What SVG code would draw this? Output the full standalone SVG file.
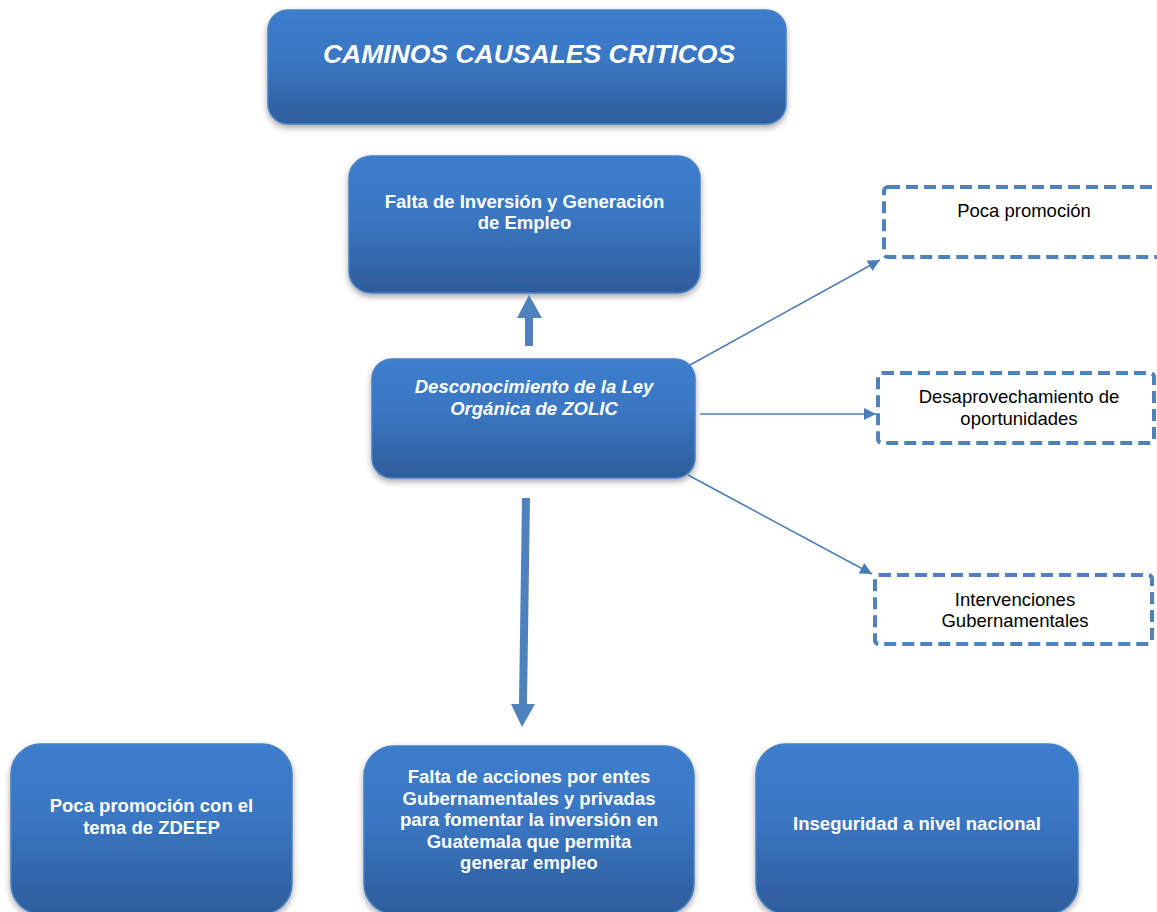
<svg xmlns="http://www.w3.org/2000/svg" width="1157" height="912" viewBox="0 0 1157 912">
<defs>
<linearGradient id="g" x1="0" y1="0" x2="0" y2="1">
<stop offset="0" stop-color="#3c7ecd"/>
<stop offset="0.45" stop-color="#3a76c2"/>
<stop offset="1" stop-color="#2e5c9b"/>
</linearGradient>
<filter id="sh" x="-10%" y="-10%" width="120%" height="130%">
<feDropShadow dx="0" dy="3" stdDeviation="3" flood-color="#000" flood-opacity="0.35"/>
</filter>
<marker id="ah2" viewBox="0 0 10 10" refX="10" refY="5" markerWidth="12" markerHeight="12" orient="auto" markerUnits="userSpaceOnUse">
<path d="M0,0 L10,5 L0,10 z" fill="#4a7ebb"/>
</marker>
</defs>
<style>
.box{fill:url(#g);stroke:#4a80c4;stroke-width:1.5;filter:url(#sh)}
.dash{fill:#fff;stroke:#4f81bd;stroke-width:4;stroke-dasharray:12 6}
.wt{font-family:"Liberation Sans",Arial,sans-serif;font-weight:bold;fill:#fff;text-anchor:middle;font-size:18.5px}
.it{font-style:italic}
.bt{font-family:"Liberation Sans",Arial,sans-serif;fill:#000;text-anchor:middle;font-size:18.5px}
.ln{stroke:#4a7ebb;stroke-width:1.6;fill:none}
.blk{fill:#4f81bd}
</style>
<rect width="1157" height="912" fill="#fff"/>

<g id="title">
<rect class="box" x="268" y="10" width="518" height="114" rx="20"/>
<text class="wt it" x="529" y="63" style="font-size:26.5px">CAMINOS CAUSALES CRITICOS</text>
</g>

<g id="falta-inversion">
<rect class="box" x="349" y="156" width="351" height="137" rx="22"/>
<text class="wt" x="524.5" y="208">Falta de Inversión y Generación</text>
<text class="wt" x="524.5" y="229">de Empleo</text>
</g>

<g id="desconocimiento">
<rect class="box" x="372" y="359" width="323" height="119" rx="20"/>
<text class="wt it" x="534" y="393">Desconocimiento de la Ley</text>
<text class="wt it" x="534" y="415">Orgánica de ZOLIC</text>
</g>

<g id="poca-promocion">
<rect class="dash" x="884" y="187" width="290" height="70" rx="4"/>
<text class="bt" x="1024" y="217">Poca promoción</text>
</g>

<g id="desaprovechamiento">
<rect class="dash" x="878" y="373" width="276" height="70" rx="4"/>
<text class="bt" x="1019" y="403">Desaprovechamiento de</text>
<text class="bt" x="1019" y="425">oportunidades</text>
</g>

<g id="intervenciones">
<rect class="dash" x="875" y="575" width="277" height="69" rx="4"/>
<text class="bt" x="1015" y="606">Intervenciones</text>
<text class="bt" x="1015" y="627">Gubernamentales</text>
</g>

<g id="poca-promocion-zdeep">
<rect class="box" x="11" y="744" width="281" height="170" rx="30"/>
<text class="wt" x="151.5" y="812">Poca promoción con el</text>
<text class="wt" x="151.5" y="834">tema de ZDEEP</text>
</g>

<g id="falta-acciones">
<rect class="box" x="364" y="746" width="330" height="168" rx="30"/>
<text class="wt" x="529" y="783">Falta de acciones por entes</text>
<text class="wt" x="529" y="805">Gubernamentales y privadas</text>
<text class="wt" x="529" y="826">para fomentar la inversión en</text>
<text class="wt" x="529" y="848">Guatemala que permita</text>
<text class="wt" x="529" y="869">generar empleo</text>
</g>

<g id="inseguridad">
<rect class="box" x="756" y="744" width="322" height="170" rx="30"/>
<text class="wt" x="917" y="830">Inseguridad a nivel nacional</text>
</g>

<g id="connectors">
<polygon class="blk" points="525,346 533,346 533,318 542,318 529,295 517,318 525,318"/>
<polygon class="blk" points="522,498 530,498 527,704 535,704 522,727 511,704 519,704"/>
<line class="ln" x1="690" y1="365" x2="880" y2="260" marker-end="url(#ah2)"/>
<line class="ln" x1="700" y1="414" x2="876" y2="414" marker-end="url(#ah2)"/>
<line class="ln" x1="688" y1="475" x2="872" y2="574" marker-end="url(#ah2)"/>
</g>
</svg>
